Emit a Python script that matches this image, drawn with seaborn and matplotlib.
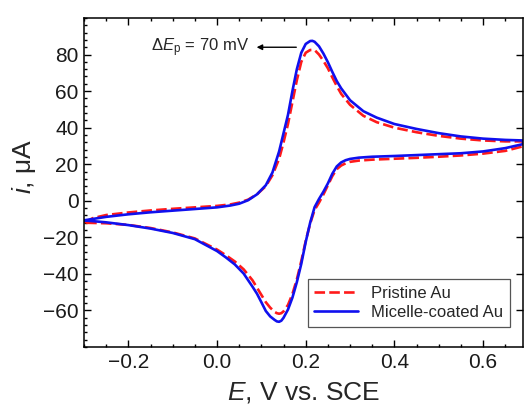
import numpy as np
import pandas as pd
import matplotlib
matplotlib.use("Agg")
import matplotlib.pyplot as plt
from matplotlib.ticker import MultipleLocator
import seaborn as sns

# ---- data: Micelle-coated Au (blue, solid) ----
blue_fwd_E = [-0.30, -0.25, -0.20, -0.15, -0.10, -0.05, 0.00, 0.03, 0.05, 0.07, 0.09, 0.11, 0.125,
              0.14, 0.15, 0.16, 0.17, 0.18, 0.19, 0.20, 0.21, 0.215, 0.22, 0.23, 0.24, 0.25, 0.26,
              0.27, 0.28, 0.30, 0.33, 0.36, 0.40, 0.45, 0.50, 0.55, 0.60, 0.65, 0.69]
blue_fwd_i = [-10.7, -8.8, -7.4, -6.3, -5.4, -4.5, -3.6, -2.6, -1.6, 0.3, 3.5, 8.5, 15.5,
              27.0, 37.0, 47.0, 60.0, 72.0, 81.0, 85.8, 87.4, 87.5, 87.0, 84.5, 80.5, 75.8, 70.5,
              65.5, 61.5, 55.0, 49.0, 45.5, 42.0, 39.3, 37.0, 35.2, 34.0, 33.3, 33.0]
blue_rev_E = [0.69, 0.65, 0.60, 0.55, 0.50, 0.45, 0.40, 0.35, 0.32, 0.30, 0.29, 0.28, 0.27, 0.26, 0.25,
              0.24, 0.23, 0.22, 0.21, 0.20, 0.19, 0.18, 0.17, 0.16, 0.15, 0.145, 0.14, 0.135, 0.13, 0.12,
              0.11, 0.10, 0.09, 0.08, 0.06, 0.04, 0.02, 0.00, -0.05, -0.10, -0.15, -0.20, -0.25, -0.30]
blue_rev_i = [31.0, 28.8, 27.0, 26.0, 25.5, 25.0, 24.5, 24.1, 23.6, 22.9, 22.2, 21.0, 18.8, 14.8, 9.5,
              5.0, 1.0, -3.5, -12.0, -22.5, -34.5, -44.5, -53.0, -59.5, -64.0, -65.6, -66.2, -66.0, -65.2, -63.3,
              -60.3, -55.5, -50.8, -47.0, -39.8, -34.8, -31.0, -27.5, -21.0, -17.6, -15.2, -13.3, -11.8, -10.7]

# ---- data: Pristine Au (red, dashed) ----
red_fwd_E = [-0.30, -0.28, -0.25, -0.20, -0.15, -0.10, -0.05, 0.00, 0.03, 0.05, 0.07, 0.09, 0.11, 0.125,
             0.14, 0.15, 0.16, 0.17, 0.18, 0.19, 0.20, 0.21, 0.22, 0.23, 0.24, 0.25, 0.26,
             0.27, 0.28, 0.30, 0.33, 0.36, 0.40, 0.45, 0.50, 0.55, 0.60, 0.65, 0.69]
red_fwd_i = [-12.0, -9.5, -7.8, -6.4, -5.3, -4.4, -3.6, -2.8, -2.0, -1.0, 0.6, 3.5, 8.0, 14.0,
             23.0, 32.0, 42.0, 54.0, 66.0, 76.0, 81.0, 82.5, 82.5, 80.0, 76.5, 72.5, 67.5,
             62.8, 58.5, 52.5, 46.5, 43.0, 40.0, 37.5, 35.5, 34.0, 33.0, 32.5, 32.5]
red_rev_E = [0.69, 0.65, 0.60, 0.55, 0.50, 0.45, 0.40, 0.35, 0.32, 0.30, 0.29, 0.28, 0.27, 0.26, 0.25,
             0.24, 0.23, 0.22, 0.21, 0.20, 0.19, 0.18, 0.17, 0.16, 0.15, 0.145, 0.14, 0.135, 0.13, 0.12,
             0.11, 0.10, 0.09, 0.08, 0.06, 0.04, 0.02, 0.00, -0.05, -0.10, -0.15, -0.20, -0.25, -0.30]
red_rev_i = [29.8, 27.3, 25.8, 24.8, 24.1, 23.5, 23.0, 22.5, 22.0, 21.3, 20.5, 19.3, 17.3, 13.5, 8.5,
             3.5, -1.0, -5.0, -12.5, -22.0, -33.0, -43.0, -51.0, -57.0, -60.5, -61.5, -61.8, -61.5, -60.8, -58.5,
             -55.5, -51.5, -47.5, -43.5, -37.5, -33.2, -29.8, -26.7, -20.6, -17.3, -14.9, -13.2, -12.3, -12.0]

labels = ["Pristine Au", "Micelle-coated Au"]
x_ticks = [-0.2, 0.0, 0.2, 0.4, 0.6]
y_ticks = [-60, -40, -20, 0, 20, 40, 60, 80]

sns.set_theme(style="ticks")
plt.rcParams["font.family"] = ["Liberation Sans", "DejaVu Sans"]
plt.rcParams["mathtext.fontset"] = "custom"
plt.rcParams["mathtext.rm"] = "Liberation Sans"
plt.rcParams["mathtext.it"] = "Liberation Sans:italic"

df = pd.concat([
    pd.DataFrame({"E": red_fwd_E + red_rev_E, "i": red_fwd_i + red_rev_i, "s": labels[0]}),
    pd.DataFrame({"E": blue_fwd_E + blue_rev_E, "i": blue_fwd_i + blue_rev_i, "s": labels[1]}),
], ignore_index=True)

fig = plt.figure(figsize=(5.24, 4.13), dpi=100)
ax = fig.add_axes([84 / 524, 1 - 347 / 413, (523 - 84) / 524, (347 - 18) / 413])

sns.lineplot(data=df, x="E", y="i", hue="s", style="s", sort=False, estimator=None,
             units="s", palette={labels[0]: "#ff1a1a", labels[1]: "#1010ee"},
             dashes={labels[0]: (4.0, 1.6), labels[1]: ""}, lw=1.9, ax=ax)

ax.set_xlim(-0.3, 0.69)
ax.set_ylim(-80, 100)
ax.set_xticks(x_ticks)
ax.set_xticklabels([f"{v:.1f}".replace("-", "\u2212") for v in x_ticks])
ax.set_yticks(y_ticks)
ax.set_yticklabels([f"{v}".replace("-", "\u2212") for v in y_ticks])
ax.xaxis.set_minor_locator(MultipleLocator(0.05))
ax.yaxis.set_minor_locator(MultipleLocator(4))
ax.tick_params(which="both", direction="in", top=True, right=True, labelsize=15, width=1.0, color="black",
               labelcolor="#1a1a1a")
ax.tick_params(which="major", length=5, pad=4)
ax.tick_params(which="minor", length=2.5, right=False)
for sp in ax.spines.values():
    sp.set_linewidth(1.1)
    sp.set_color("black")

ax.set_xlabel(r"$E$, V vs. SCE", fontsize=19, labelpad=6)
ax.set_ylabel(r"$i$, $\mathrm{\mu}$A", fontsize=19)
ax.yaxis.set_label_coords(-0.105, 0.55)

ax.annotate("", xy=(0.083, 84), xytext=(0.185, 84),
            arrowprops=dict(arrowstyle="-|>", color="black", lw=1.0, mutation_scale=8))
ax.text(0.072, 84, r"$\Delta E_\mathrm{p}$ = 70 mV", ha="right", va="center", fontsize=12)

leg = ax.legend(loc="lower right", bbox_to_anchor=(0.970, 0.061), borderaxespad=0,
                fontsize=12, handlelength=2.6, frameon=True, fancybox=False,
                edgecolor="#555555", framealpha=1, labelspacing=0.25, borderpad=0.4)
leg.get_frame().set_linewidth(0.9)

fig.savefig("out.png", dpi=100)
